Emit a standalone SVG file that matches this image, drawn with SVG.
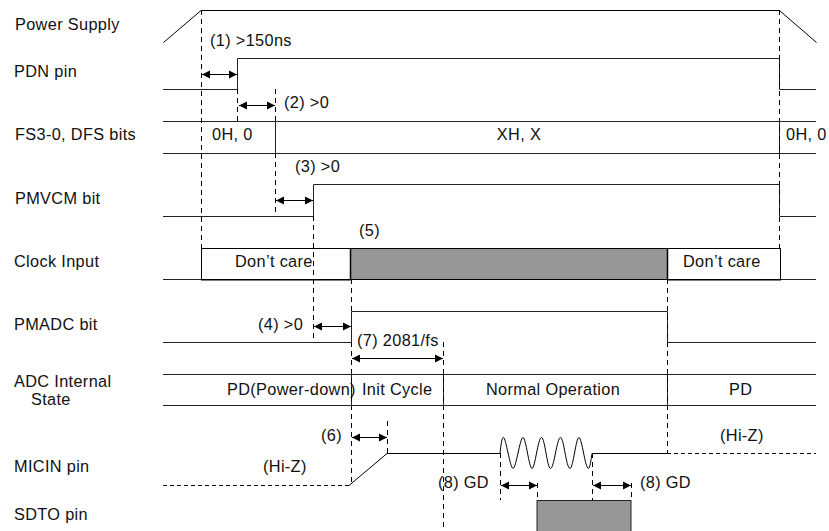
<svg xmlns="http://www.w3.org/2000/svg" width="829" height="531" viewBox="0 0 829 531">
<defs>
<marker id="ah" markerUnits="userSpaceOnUse" markerWidth="9" markerHeight="9" refX="8" refY="4.5" orient="auto-start-reverse"><path d="M0,0.500 L8,4.500 L0,8.500 Z" fill="#000"/></marker>
</defs>
<style>
text{font-family:"Liberation Sans",Arial,sans-serif;font-size:16.300px;letter-spacing:0.350px;fill:#111}
.s{fill:none;stroke:#000;stroke-width:1}
.g{fill:none;stroke:#222;stroke-width:1}
.d{fill:none;stroke:#000;stroke-width:1;stroke-dasharray:5 4}
.h{fill:none;stroke:#000;stroke-width:1;stroke-dasharray:4 3}
.a{fill:none;stroke:#000;stroke-width:1;marker-start:url(#ah);marker-end:url(#ah)}
.m{text-anchor:middle}
.b{fill:none;stroke:#000;stroke-width:1.500}
</style>
<rect width="829" height="531" fill="#fff"/>
<g id="power-supply"><text x="15" y="30">Power Supply</text><path class="s" d="M163.500 42.500L201 10.500H779.500L816.500 42.500"/></g>
<g id="pdn-pin"><text x="14" y="77">PDN pin</text><path class="g" d="M163 89.500H237.500V58.500H779.500V89.500H816"/></g>
<g id="fs-bits"><text x="15" y="140">FS3-0, DFS bits</text><path class="g" d="M163 121.500H816M163 153.500H816M275.500 121.500V153.500M779.500 121.500V153.500"/><text x="212" y="140">0H, 0</text><text class="m" x="519" y="140">XH, X</text><text x="786" y="140">0H, 0</text></g>
<g id="pmvcm-bit"><text x="15" y="204">PMVCM bit</text><path class="g" d="M163 216.500H313.500V184.500H779.500V216.500H816"/></g>
<g id="clock-input"><text x="14" y="267">Clock Input</text><path class="g" d="M163 279.500H201M780 279.500H816"/><rect x="201.500" y="248.500" width="149" height="31" fill="#fff" stroke="#000"/><rect x="350.500" y="248.500" width="317" height="31" fill="#969696" stroke="#000"/><rect x="667.500" y="248.500" width="113" height="31" fill="#fff" stroke="#000"/><path class="b" d="M350.500 248V280M667.500 248V280M201 279.800H351M667 279.800H781"/><text x="235" y="267">Don’t care</text><text x="683" y="267">Don’t care</text><text x="359" y="236">(5)</text></g>
<g id="pmadc-bit"><text x="14" y="330">PMADC bit</text><path class="g" d="M163 342.500H351.500V311.500H667.500V342.500H816"/></g>
<g id="adc-state"><text x="14" y="387">ADC Internal</text><text x="31" y="405">State</text><path class="g" d="M163 374.500H816M163 405.500H816M351.500 374.500V405.500M443.500 374.500V405.500M667.500 374.500V405.500"/><text x="227" y="395">PD(Power-down)</text><text x="362" y="395">Init Cycle</text><text x="486" y="395">Normal Operation</text><text x="729" y="395">PD</text></g>
<g id="micin-pin"><text x="14" y="472">MICIN pin</text><text x="263" y="472">(Hi-Z)</text><text x="720" y="441">(Hi-Z)</text><path class="h" d="M163 485.500H349"/><path class="s" d="M349 485.500L387 453.500H500"/><path class="s" d="M500 453.500C501 444 502 437 503.500 437.500C506 438 510 468 513 468.500C516 469 520 437 523 437.500C526 438 529 468 532 468.500C535 469 538 437 541.500 437.500C545 438 547 468 550.500 468.500C554 469 557 437 560.500 437.500C564 438 566 468 570 468.500C573 469 576 437 579 437.500C582 438 585 468 588.500 468.500C590 468 591 460 592 453.500H667"/><path class="h" d="M667 453.500H816"/></g>
<g id="sdto-pin"><text x="14" y="520">SDTO pin</text><rect x="537" y="500.500" width="94" height="32" fill="#969696" stroke="#222"/></g>
<g id="connectors">
<path class="d" d="M201.500 10V248M237.500 89V121M275.500 89V121M275.500 153V216M313.500 216V342M351.500 279V311M351.500 342V485M443.500 342V531M387.500 421V453M500.500 453V500M537.500 483V500M592.500 453V500M631.500 483V500M667.500 279V453M779.500 10V248"/>
<path class="a" d="M202 74.500H237"/>
<path class="a" d="M239 105.500H275"/>
<path class="a" d="M276 200.500H313"/>
<path class="a" d="M314 326.500H351"/>
<path class="a" d="M352 358.500H443"/>
<path class="a" d="M352 437.500H387"/>
<path class="a" d="M501 485.500H537"/>
<path class="a" d="M593 485.500H631"/>
</g>
<g id="labels"><text x="210" y="46">(1) &gt;150ns</text><text x="284" y="108">(2) &gt;0</text><text x="295" y="172">(3) &gt;0</text><text x="258" y="330">(4) &gt;0</text><text x="357" y="346">(7) 2081/fs</text><text x="321" y="441">(6)</text><text x="438" y="488">(8) GD</text><text x="640" y="488">(8) GD</text></g>
</svg>
